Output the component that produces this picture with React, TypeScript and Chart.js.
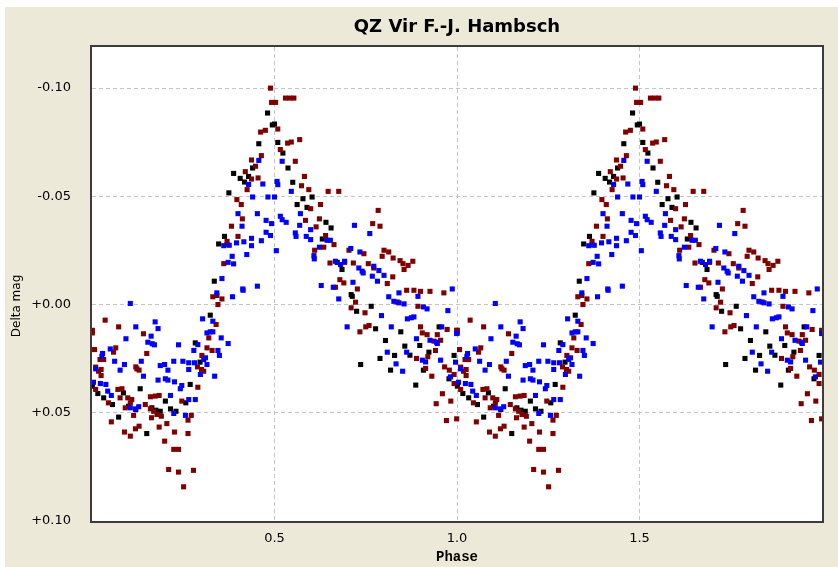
import React, { useEffect, useRef } from 'react';
import { Chart, registerables } from 'chart.js';

Chart.register(...registerables);

const chartTitle = 'QZ Vir F.-J. Hambsch';
const xAxisTitle = 'Phase';
const yAxisTitle = 'Delta mag';
const xTickValues = [0.5, 1.0, 1.5];
const xTickLabels = ['0.5', '1.0', '1.5'];
const yTickValues = [-0.1, -0.05, 0.0, 0.05, 0.1];
const yTickLabels = ['-0.10', '-0.05', '+0.00', '+0.05', '+0.10'];
const cycles = [0, 1];

// [phase, delta mag] observations, one cycle each
const blackObs: [number, number][] = [
  [0.481, -0.0885], [0.494, -0.083], [0.457, -0.0743], [0.44, -0.0631], [0.429, -0.0592],
  [0.388, -0.0606], [0.406, -0.0583], [0.418, -0.0566], [0.375, -0.0516], [0.363, -0.0315],
  [0.347, -0.028], [0.335, -0.0108], [0.5, -0.0834], [0.509, -0.0749], [0.523, -0.07],
  [0.537, -0.0631], [0.55, -0.0565], [0.603, -0.0497], [0.578, -0.0489], [0.562, -0.0462],
  [0.589, -0.0449], [0.641, -0.038], [0.655, -0.0354], [0.631, -0.0303], [0.672, -0.0195],
  [0.685, -0.0162], [0.71, -0.0046], [0.713, -0.0038], [0.725, 0.0031], [0.765, 0.0008],
  [0.777, 0.0112], [0.846, 0.0126], [0.951, 0.0103], [0.804, 0.0166], [0.857, 0.0192],
  [0.871, 0.0234], [0.898, 0.0189], [0.789, 0.0249], [0.829, 0.0235], [0.923, 0.022],
  [0.992, 0.0235], [0.736, 0.0277], [0.818, 0.0303], [0.908, 0.0303], [0.978, 0.0343],
  [0.887, 0.0372], [0.324, 0.0049], [0.283, 0.0177], [0.296, 0.0266], [0.269, 0.0369],
  [0.001, 0.0377], [0.016, 0.0411], [0.032, 0.0431], [0.056, 0.0462], [0.086, 0.0408],
  [0.132, 0.0389], [0.201, 0.0446], [0.257, 0.0454], [0.1, 0.047], [0.12, 0.0485],
  [0.164, 0.0477], [0.175, 0.0488], [0.187, 0.0493], [0.215, 0.0482], [0.23, 0.0493],
  [0.073, 0.052], [0.15, 0.0596],
];

const redObs: [number, number][] = [
  [0.489, -0.1], [0.492, -0.0934], [0.462, -0.0797], [0.475, -0.0805], [0.464, -0.0688],
  [0.437, -0.0668], [0.448, -0.0639], [0.42, -0.0614], [0.437, -0.058], [0.455, -0.0585],
  [0.425, -0.0531], [0.397, -0.0485], [0.409, -0.0462], [0.412, -0.0396], [0.382, -0.0362],
  [0.4, -0.0315], [0.37, -0.0292], [0.37, -0.0277], [0.361, -0.0189],
  [0.53, -0.0954], [0.542, -0.0954], [0.553, -0.0954], [0.503, -0.0934], [0.509, -0.0811],
  [0.536, -0.0746], [0.546, -0.0751], [0.569, -0.0762], [0.516, -0.0716], [0.557, -0.0662],
  [0.582, -0.0592], [0.574, -0.0549], [0.594, -0.0531], [0.647, -0.0523], [0.676, -0.0523],
  [0.599, -0.0443], [0.626, -0.0462], [0.784, -0.0435], [0.585, -0.0389], [0.623, -0.0396],
  [0.614, -0.0359], [0.769, -0.0374], [0.789, -0.0362], [0.64, -0.0319], [0.663, -0.0277],
  [0.635, -0.0265], [0.61, -0.0251], [0.704, -0.0251], [0.745, -0.0235], [0.8, -0.0251],
  [0.813, -0.0243], [0.795, -0.0223], [0.825, -0.0215], [0.844, -0.0203], [0.852, -0.0189],
  [0.866, -0.0181], [0.879, -0.02], [0.855, -0.0162], [0.652, -0.0192], [0.692, -0.0195],
  [0.716, -0.0192], [0.757, -0.0189], [0.772, -0.0169], [0.824, -0.0128], [0.679, -0.0115],
  [0.69, -0.01], [0.809, -0.0097], [0.667, -0.008], [0.727, -0.0072], [0.862, -0.0066],
  [0.882, -0.0066], [0.9, -0.0061], [0.926, -0.0061], [0.964, -0.0054],
  [0.722, -0.0011], [0.71, 0.0015], [0.748, 0.0038], [0.836, -0.0012], [0.893, 0.0008],
  [0.759, 0.0097], [0.734, 0.0126], [0.75, 0.0103], [0.9, 0.0103], [0.905, 0.0131],
  [0.918, 0.0139], [0.946, 0.0139], [0.955, 0.0165], [0.973, 0.0115], [0.999, 0.0119],
  [0.937, 0.0169], [0.941, 0.0212], [0.889, 0.0249], [0.92, 0.0241], [0.914, 0.0295],
  [0.931, 0.0331], [0.966, 0.0288], [0.979, 0.0303], [0.992, 0.0323], [0.992, 0.0365],
  [0.96, 0.0412], [0.983, 0.0446], [0.943, 0.0458], [0.971, 0.0536], [0.999, 0.0528],
  [0.331, -0.0036], [0.342, -0.0042], [0.356, -0.0026], [0.345, 0.0], [0.34, 0.0092],
  [0.036, 0.0072], [0.073, 0.0103], [0.001, 0.0119], [0.001, 0.0131], [0.141, 0.0135],
  [0.32, 0.0154], [0.007, 0.0208], [0.065, 0.02], [0.059, 0.022], [0.15, 0.0226],
  [0.315, 0.02], [0.329, 0.0212], [0.301, 0.0235], [0.022, 0.0254], [0.032, 0.0254],
  [0.289, 0.0288], [0.306, 0.0308], [0.3, 0.03], [0.01, 0.0289], [0.025, 0.03],
  [0.018, 0.0308], [0.12, 0.0288], [0.129, 0.0303], [0.123, 0.0297], [0.025, 0.0328],
  [0.29, 0.0382], [0.01, 0.0392], [0.071, 0.0392], [0.082, 0.0389], [0.045, 0.0454],
  [0.077, 0.0431], [0.091, 0.0477], [0.098, 0.0431], [0.105, 0.0454], [0.109, 0.0439],
  [0.16, 0.0426], [0.173, 0.0423], [0.184, 0.042], [0.246, 0.0446], [0.114, 0.0512],
  [0.146, 0.0462], [0.16, 0.0482], [0.169, 0.0493], [0.178, 0.0508], [0.163, 0.0523],
  [0.19, 0.0516], [0.205, 0.055], [0.263, 0.0534], [0.272, 0.0512], [0.053, 0.0542],
  [0.184, 0.0566], [0.119, 0.0574], [0.129, 0.0562], [0.089, 0.0589], [0.105, 0.0608],
  [0.226, 0.0589], [0.263, 0.0596], [0.199, 0.0631], [0.224, 0.0669], [0.237, 0.0669],
  [0.21, 0.0762], [0.237, 0.0774], [0.278, 0.0766], [0.251, 0.0842],
];

const blueObs: [number, number][] = [
  [0.457, -0.0666], [0.429, -0.0555], [0.468, -0.0557], [0.44, -0.0497], [0.482, -0.0497],
  [0.4, -0.042], [0.453, -0.042], [0.411, -0.0362], [0.477, -0.0389], [0.492, -0.0374],
  [0.477, -0.0334], [0.489, -0.0319], [0.361, -0.0272], [0.376, -0.0274], [0.396, -0.0285],
  [0.416, -0.029], [0.437, -0.0306], [0.437, -0.0272], [0.464, -0.0295], [0.384, -0.0223],
  [0.424, -0.0231], [0.373, -0.0195], [0.388, -0.0188], [0.356, -0.012], [0.413, -0.0072],
  [0.453, -0.0085], [0.342, -0.0054],
  [0.521, -0.0662], [0.507, -0.0569], [0.509, -0.0554], [0.546, -0.0523], [0.5, -0.0497],
  [0.571, -0.042], [0.516, -0.0408], [0.521, -0.0392], [0.532, -0.038], [0.569, -0.0366],
  [0.599, -0.0346], [0.719, -0.0366], [0.557, -0.0331], [0.559, -0.0315], [0.587, -0.0315],
  [0.599, -0.03], [0.761, -0.0328], [0.644, -0.0297], [0.653, -0.0297], [0.505, -0.0249],
  [0.623, -0.0265], [0.608, -0.0226], [0.609, -0.0211], [0.709, -0.0259], [0.734, -0.0243],
  [0.667, -0.02], [0.681, -0.0185], [0.692, -0.02], [0.731, -0.0169], [0.74, -0.0154],
  [0.743, -0.0146], [0.772, -0.0177], [0.786, -0.0157], [0.8, -0.0135], [0.768, -0.0131],
  [0.782, -0.0108], [0.715, -0.0103], [0.628, -0.0088], [0.661, -0.008], [0.841, -0.0054],
  [0.987, -0.0072],
  [0.676, -0.0026], [0.793, 0.0051], [0.813, -0.0036], [0.827, -0.0015], [0.841, -0.0008],
  [0.855, -0.0003], [0.893, -0.0038], [0.908, 0.0011], [0.918, 0.002], [0.975, 0.0028],
  [0.699, 0.0103], [0.82, 0.0103], [0.864, 0.0066], [0.875, 0.0061], [0.882, 0.0057],
  [0.958, 0.0103], [0.999, 0.0134], [0.889, 0.0158], [0.926, 0.0165], [0.944, 0.0174],
  [0.946, 0.018], [0.809, 0.022], [0.862, 0.022], [0.905, 0.0257], [0.914, 0.0265],
  [0.955, 0.0257], [0.996, 0.0266], [0.833, 0.0274], [0.851, 0.0308], [0.982, 0.0334],
  [0.414, -0.0066], [0.385, -0.0036], [0.105, -0.0005], [0.303, 0.0066], [0.331, 0.0077],
  [0.12, 0.0103], [0.173, 0.008], [0.181, 0.0111], [0.162, 0.0146], [0.093, 0.0158],
  [0.315, 0.0131], [0.324, 0.0126], [0.331, 0.0126], [0.354, 0.0154], [0.153, 0.0174],
  [0.165, 0.0181], [0.171, 0.0186], [0.237, 0.0186], [0.29, 0.0185], [0.373, 0.018],
  [0.05, 0.0205], [0.279, 0.0212], [0.345, 0.0212], [0.349, 0.0235], [0.029, 0.0226],
  [0.027, 0.0239], [0.062, 0.0262], [0.135, 0.0262], [0.224, 0.0262], [0.249, 0.0262],
  [0.265, 0.0269], [0.187, 0.0282], [0.199, 0.0277], [0.208, 0.0303], [0.281, 0.0269],
  [0.306, 0.0254], [0.311, 0.0246], [0.315, 0.0277], [0.265, 0.03], [0.01, 0.0297],
  [0.077, 0.0303], [0.089, 0.0277], [0.141, 0.0331], [0.297, 0.0323], [0.336, 0.0331],
  [0.181, 0.0349], [0.201, 0.0343], [0.208, 0.0349], [0.226, 0.0357], [0.004, 0.0359],
  [0.023, 0.0365], [0.038, 0.0369], [0.246, 0.0374], [0.242, 0.0389], [0.043, 0.04],
  [0.053, 0.042], [0.215, 0.042], [0.265, 0.0439], [0.283, 0.0439], [0.105, 0.0477],
  [0.119, 0.0482], [0.128, 0.0472], [0.224, 0.0503], [0.256, 0.0512],
];

const seriesColors = { black: '#000000', red: '#800000', blue: '#0000ff' };

function folded(obs: [number, number][]) {
  const pts: { x: number; y: number }[] = [];
  for (const c of cycles) for (const [p, m] of obs) pts.push({ x: p + c, y: m });
  return pts;
}

const framePlugin = {
  id: 'frame',
  beforeDraw(chart: any) {
    const { ctx, width, height, chartArea } = chart;
    ctx.save();
    ctx.fillStyle = '#ffffff';
    ctx.fillRect(0, 0, width, height);
    ctx.fillStyle = '#ECE9D8';
    ctx.fillRect(5, 7, width - 5, height - 7);
    ctx.fillStyle = '#ffffff';
    ctx.fillRect(chartArea.left, chartArea.top, chartArea.right - chartArea.left, chartArea.bottom - chartArea.top);
    ctx.restore();
  },
  afterDraw(chart: any) {
    const { ctx, chartArea } = chart;
    const { left, top, right, bottom } = chartArea;
    ctx.save();
    ctx.strokeStyle = '#3c3c3c';
    ctx.lineWidth = 2;
    ctx.strokeRect(left - 1, top - 1, right - left + 2, bottom - top + 2);
    ctx.fillStyle = '#000000';
    ctx.textAlign = 'center';
    ctx.textBaseline = 'middle';
    ctx.font = 'bold 18px "DejaVu Sans"';
    ctx.fillText(chartTitle, (left + right) / 2, 27);
    ctx.font = 'bold 14px "Liberation Mono"';
    ctx.fillText(xAxisTitle, (left + right) / 2, 557);
    ctx.translate(17, 306);
    ctx.rotate(-Math.PI / 2);
    ctx.font = '12px "DejaVu Sans"';
    ctx.fillText(yAxisTitle, 0, 0);
    ctx.restore();
  },
};

export default function App() {
  const canvasRef = useRef<HTMLCanvasElement | null>(null);

  useEffect(() => {
    if (!canvasRef.current) return;
    const mk = (label: string, obs: [number, number][], color: string) => ({
      label,
      data: folded(obs),
      backgroundColor: color,
      borderColor: color,
      borderWidth: 0,
      pointStyle: 'rect' as const,
      pointRadius: 3.6,
      showLine: false,
    });
    const chart = new Chart(canvasRef.current, {
      type: 'scatter',
      data: {
        datasets: [
          mk('blue', blueObs, seriesColors.blue),
          mk('red', redObs, seriesColors.red),
          mk('black', blackObs, seriesColors.black),
        ],
      },
      options: {
        responsive: false,
        animation: false,
        devicePixelRatio: 1,
        layout: { padding: { left: 0, right: 16, top: 47, bottom: 0 } },
        plugins: {
          legend: { display: false },
          tooltip: { enabled: false },
          title: { display: false },
        },
        scales: {
          x: {
            type: 'linear',
            min: 0,
            max: 2,
            afterFit: (s: any) => { s.height = 46; },
            afterBuildTicks: (s: any) => { s.ticks = xTickValues.map((v) => ({ value: v })); },
            ticks: {
              callback: (_v: any, i: number) => xTickLabels[i],
              font: { family: 'DejaVu Sans', size: 13 },
              color: '#000000',
              padding: 10,
              maxRotation: 0,
              autoSkip: false,
            },
            grid: { color: '#c4c4c4', drawTicks: false, lineWidth: 1 },
            border: { display: false, dash: [4, 3] },
          },
          y: {
            type: 'linear',
            reverse: true,
            min: -0.119,
            max: 0.1,
            afterFit: (s: any) => { s.width = 92; },
            afterBuildTicks: (s: any) => { s.ticks = yTickValues.map((v) => ({ value: v })); },
            ticks: {
              callback: (_v: any, i: number) => yTickLabels[i],
              font: { family: 'DejaVu Sans', size: 13 },
              color: '#000000',
              padding: 21,
              autoSkip: false,
            },
            grid: { color: '#c4c4c4', drawTicks: false, lineWidth: 1 },
            border: { display: false, dash: [4, 3] },
          },
        },
      },
      plugins: [framePlugin],
    });
    return () => chart.destroy();
  }, []);

  return (
    <div style={{ position: 'absolute', left: 0, top: 0, width: 838, height: 567 }}>
      <canvas ref={canvasRef} width={838} height={567} style={{ width: 838, height: 567, display: 'block' }} />
    </div>
  );
}
